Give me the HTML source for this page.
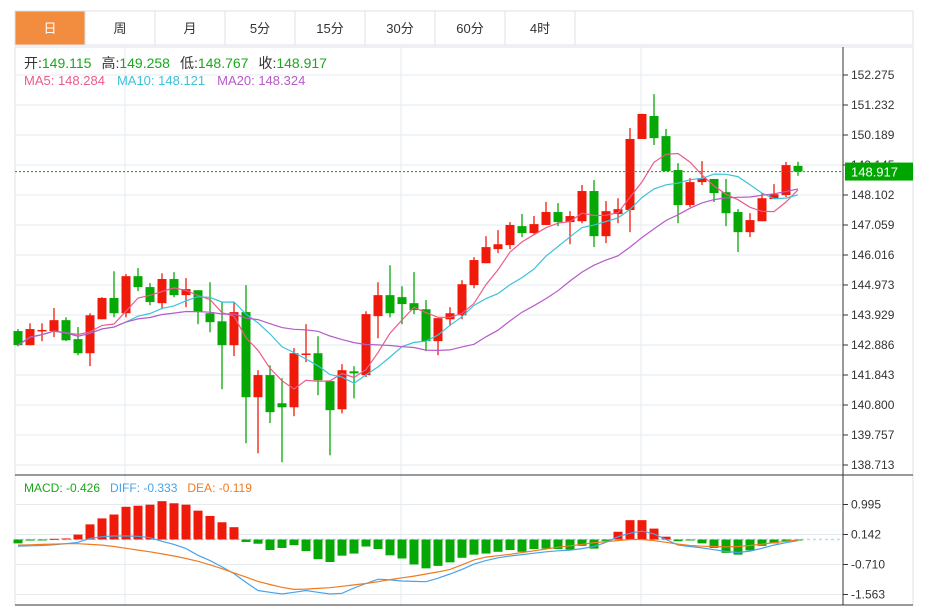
<!DOCTYPE html>
<html><head><meta charset="utf-8">
<style>
body{margin:0;background:#fff;font-family:"Liberation Sans","Noto Sans CJK SC",sans-serif;}
svg{display:block}
</style></head>
<body>
<svg id="chart" width="927" height="610" xmlns="http://www.w3.org/2000/svg" font-family="Liberation Sans, Noto Sans CJK SC, sans-serif">
 <g id="tabs"></g>
 <g id="grid"></g>
 <g id="marks"></g>
 <g id="macd"></g>
 <g id="axes"></g>
 <text x="24" y="68" font-size="14"><tspan fill="#333">开:</tspan><tspan fill="#1aa81a">149.115</tspan><tspan fill="#333" dx="10">高:</tspan><tspan fill="#1aa81a">149.258</tspan><tspan fill="#333" dx="10">低:</tspan><tspan fill="#1aa81a">148.767</tspan><tspan fill="#333" dx="10">收:</tspan><tspan fill="#1aa81a">148.917</tspan></text>
 <text x="24" y="85" font-size="13"><tspan fill="#ec5b8a">MA5: 148.284</tspan><tspan fill="#3cc3d8" dx="12">MA10: 148.121</tspan><tspan fill="#b65bc8" dx="12">MA20: 148.324</tspan></text>
 <text x="24" y="492" font-size="12"><tspan fill="#1aa81a">MACD: -0.426</tspan><tspan fill="#4aa3e8" dx="10">DIFF: -0.333</tspan><tspan fill="#f07b22" dx="10">DEA: -0.119</tspan></text>
</svg>
<script>
const opens=[143.37,142.88,143.39,143.37,143.75,143.09,142.60,143.78,144.52,143.99,145.28,144.90,144.34,145.18,144.62,144.79,143.99,143.71,142.88,144.03,141.07,141.84,140.86,140.72,142.57,142.60,141.63,140.65,141.97,141.84,143.89,144.62,144.55,144.34,144.13,143.02,143.78,143.92,144.97,145.73,146.22,146.36,147.02,146.78,147.06,147.51,147.16,147.19,148.24,146.67,147.44,147.58,150.05,150.85,150.15,148.97,147.75,148.55,148.66,148.20,147.51,146.81,147.19,147.96,148.10,149.115];
const closes=[142.88,143.44,143.41,143.75,143.05,142.60,143.92,144.52,143.99,145.28,144.90,144.38,145.18,144.62,144.83,144.03,143.68,142.88,144.03,141.07,141.84,140.55,140.72,142.60,142.59,141.66,140.62,142.01,141.90,143.96,144.62,143.99,144.31,144.10,143.02,143.82,143.99,145.00,145.84,146.29,146.39,147.06,146.78,147.09,147.51,147.16,147.37,148.24,146.67,147.54,147.61,150.05,150.92,150.08,148.93,147.75,148.55,148.69,148.17,147.47,146.81,147.23,147.99,148.13,149.14,148.917];
const highs=[143.44,143.64,143.64,144.17,143.85,143.51,143.99,144.55,145.45,145.35,145.56,145.04,145.38,145.42,145.21,144.79,145.07,144.38,144.38,144.97,142.01,142.18,141.73,142.78,143.61,143.19,141.63,142.22,142.15,144.06,145.07,145.66,144.93,145.42,144.45,143.82,144.20,145.14,145.94,146.67,146.88,147.16,147.44,147.37,147.86,147.82,147.54,148.45,148.62,147.89,147.99,150.43,150.93,151.61,150.40,149.21,148.69,149.28,148.66,148.66,147.61,147.47,148.17,148.48,149.25,149.258];
const lows=[142.84,142.88,143.02,143.16,143.02,142.53,142.15,143.78,143.85,143.85,144.76,144.27,144.13,144.55,144.20,143.61,143.33,141.35,142.50,139.47,139.12,140.17,138.81,140.41,142.29,141.14,139.05,140.51,141.03,141.77,143.12,143.85,143.61,143.96,142.67,142.53,143.54,143.78,144.86,145.73,146.08,146.22,146.64,146.74,147.06,147.02,146.39,147.12,146.29,146.43,147.12,146.81,150.05,149.84,148.93,147.12,147.68,148.45,147.86,147.02,146.12,146.64,147.19,147.96,148.03,148.767];
const macdHist=[-0.11,-0.03,-0.02,0.02,0.03,0.14,0.43,0.60,0.71,0.93,0.96,0.99,1.09,1.03,0.99,0.82,0.67,0.49,0.35,-0.07,-0.12,-0.30,-0.24,-0.16,-0.33,-0.56,-0.64,-0.46,-0.40,-0.20,-0.27,-0.45,-0.54,-0.71,-0.82,-0.75,-0.65,-0.52,-0.43,-0.40,-0.35,-0.30,-0.35,-0.27,-0.26,-0.27,-0.29,-0.18,-0.26,-0.04,0.22,0.55,0.55,0.31,0.08,-0.05,-0.02,-0.11,-0.24,-0.38,-0.43,-0.31,-0.18,-0.11,-0.04,-0.02];
const diffVals=[-0.19,-0.18,-0.17,-0.15,-0.12,-0.08,0.03,0.08,0.10,0.10,0.09,0.05,-0.05,-0.14,-0.26,-0.45,-0.60,-0.78,-0.97,-1.22,-1.45,-1.50,-1.55,-1.50,-1.45,-1.50,-1.55,-1.53,-1.38,-1.25,-1.13,-1.15,-1.18,-1.19,-1.20,-1.10,-0.98,-0.85,-0.70,-0.60,-0.52,-0.47,-0.43,-0.39,-0.35,-0.32,-0.30,-0.26,-0.20,-0.08,0.08,0.18,0.24,0.16,0.00,-0.16,-0.20,-0.24,-0.29,-0.34,-0.37,-0.33,-0.25,-0.16,-0.09,-0.03];
const deaVals=[-0.16,-0.15,-0.14,-0.13,-0.12,-0.12,-0.14,-0.16,-0.20,-0.25,-0.30,-0.35,-0.41,-0.47,-0.54,-0.62,-0.72,-0.83,-0.95,-1.07,-1.19,-1.28,-1.36,-1.42,-1.41,-1.39,-1.37,-1.33,-1.29,-1.25,-1.20,-1.14,-1.09,-1.04,-0.98,-0.92,-0.85,-0.72,-0.58,-0.50,-0.46,-0.42,-0.37,-0.32,-0.27,-0.22,-0.18,-0.14,-0.09,-0.06,-0.03,0.00,0.00,-0.03,-0.08,-0.13,-0.17,-0.19,-0.20,-0.21,-0.20,-0.17,-0.13,-0.09,-0.05,-0.01];
const priceTicks=["152.275","151.232","150.189","149.145","148.102","147.059","146.016","144.973","143.929","142.886","141.843","140.800","139.757","138.713"];
const macdTicks=["0.995","0.142","-0.710","-1.563"];
const tabLabels=["日","周","月","5分","15分","30分","60分","4时"];

const NS="http://www.w3.org/2000/svg";
function mk(parent,tag,attrs){const e=document.createElementNS(NS,tag);for(const k in attrs)e.setAttribute(k,attrs[k]);parent.appendChild(e);return e;}
const X0=18,DX=12,BW=9;
const xAt=i=>X0+i*DX;
const PTOP=152.275,PBOT=138.713,YTOP=75,YBOT=465;
const yP=p=>YTOP+(PTOP-p)*(YBOT-YTOP)/(PTOP-PBOT);
const MZERO=539.5,MSCALE=30/0.853;
const yM=v=>MZERO-v*MSCALE;
const L=15,R=843,RO=913;

const tabs=document.getElementById('tabs');
mk(tabs,'rect',{x:L,y:11,width:RO-L,height:34,fill:'#fff',stroke:'#dde2e8'});
tabLabels.forEach((t,i)=>{
  const g=mk(tabs,'g',{});
  
  
  mk(g,'rect',{x:L+i*70,y:11,width:70,height:34,fill:i===0?'#f28c3f':'#fff',stroke:'#dde2e8'});
  const tx=mk(g,'text',{x:L+i*70+35,y:33,'font-size':13,'text-anchor':'middle',fill:i===0?'#fff':'#333'});
  tx.textContent=t;
});

const grid=document.getElementById('grid');
mk(grid,'rect',{x:L,y:47,width:RO-L,height:558,fill:'none',stroke:'#dde2e8'});
priceTicks.forEach(t=>{const y=yP(parseFloat(t));mk(grid,'line',{x1:L,x2:R,y1:y,y2:y,stroke:'#e6ebf0'});});
macdTicks.forEach(t=>{const y=yM(parseFloat(t));mk(grid,'line',{x1:L,x2:R,y1:y,y2:y,stroke:'#e6ebf0'});});
[125,401,641].forEach(x=>{mk(grid,'line',{x1:x,x2:x,y1:47,y2:605,stroke:'#e6ebf0'});});

const marks=document.getElementById('marks');
opens.forEach((o,i)=>{
  const c=closes[i],up=c>=o,col=up?'#f01a0a':'#06a806',x=xAt(i);
  const g=mk(marks,'g',{});
  
  
  mk(g,'line',{x1:x,x2:x,y1:yP(highs[i]),y2:yP(lows[i]),stroke:col,'stroke-width':1.3});
  const t=yP(Math.max(o,c)),b=yP(Math.min(o,c));
  mk(g,'rect',{x:x-BW/2,y:t,width:BW,height:Math.max(1.5,b-t),fill:col});
});
function ma(n){return closes.map((_,i)=>{const s=closes.slice(Math.max(0,i-n+1),i+1);return s.reduce((a,b)=>a+b,0)/s.length;});}
[[5,'#ec5b8a','ma5-line'],[10,'#3cc3d8','ma10-line'],[20,'#b65bc8','ma20-line']].forEach(([n,col,name])=>{
  const v=ma(n);
  const p=mk(marks,'polyline',{points:v.map((m,i)=>xAt(i)+','+yP(m).toFixed(1)).join(' '),fill:'none',stroke:col,'stroke-width':1.2});
  
  
});
const last=closes[closes.length-1];
const dl=mk(marks,'line',{x1:L,x2:R,y1:yP(last),y2:yP(last),stroke:'#0a0','stroke-dasharray':'2,2'});



const mg=document.getElementById('macd');
mk(mg,'line',{x1:L,x2:R,y1:MZERO,y2:MZERO,stroke:'#aee0f0','stroke-dasharray':'3,3','stroke-width':1.5});
macdHist.forEach((h,i)=>{
  const y1=yM(Math.max(h,0)),y2=yM(Math.min(h,0));
  const r=mk(mg,'rect',{x:xAt(i)-BW/2,y:y1,width:BW,height:Math.max(1,y2-y1),fill:h>=0?'#f01a0a':'#06a806'});
  
  
});
const pd=mk(mg,'polyline',{points:diffVals.map((v,i)=>xAt(i)+','+yM(v).toFixed(1)).join(' '),fill:'none',stroke:'#4aa3e8','stroke-width':1.2});


const pe=mk(mg,'polyline',{points:deaVals.map((v,i)=>xAt(i)+','+yM(v).toFixed(1)).join(' '),fill:'none',stroke:'#f07b22','stroke-width':1.2});



const ax=document.getElementById('axes');
mk(ax,'line',{x1:R,x2:R,y1:47,y2:605,stroke:'#333'});
mk(ax,'line',{x1:L,x2:RO,y1:475,y2:475,stroke:'#333'});
mk(ax,'line',{x1:L,x2:RO,y1:605,y2:605,stroke:'#333'});
priceTicks.forEach(t=>{const y=yP(parseFloat(t));
  mk(ax,'line',{x1:R,x2:R+5,y1:y,y2:y,stroke:'#333'});
  const tx=mk(ax,'text',{x:R+8,y:y+4,'font-size':12,fill:'#333'});
  
  
  tx.textContent=t;});
macdTicks.forEach(t=>{const y=yM(parseFloat(t));
  mk(ax,'line',{x1:R,x2:R+5,y1:y,y2:y,stroke:'#333'});
  const tx=mk(ax,'text',{x:R+8,y:y+4,'font-size':12,fill:'#333'});
  
  
  tx.textContent=t;});
const ly=yP(last);
const box=mk(ax,'rect',{x:R+2,y:ly-9,width:RO-R-2,height:18,fill:'#00a600'});


const lt=mk(ax,'text',{x:R+8,y:ly+5,'font-size':13,fill:'#fff'});
lt.textContent=last.toFixed(3);
</script>
</body></html>
